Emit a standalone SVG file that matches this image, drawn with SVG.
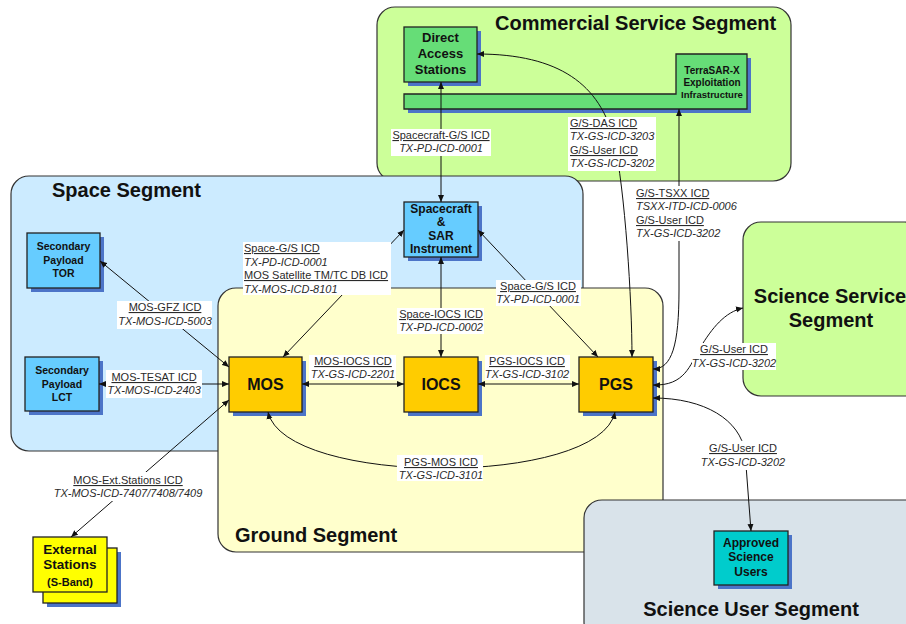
<svg xmlns="http://www.w3.org/2000/svg" width="906" height="624" viewBox="0 0 906 624">
  <defs>
    <marker id="arr" markerUnits="userSpaceOnUse" markerWidth="8" markerHeight="7" refX="7" refY="3.5" orient="auto-start-reverse">
      <path d="M0,0.5 L7,3.5 L0,6.5 z" fill="#111"/>
    </marker>
  </defs>
  <style>
    text { font-family: "Liberation Sans", Arial, sans-serif; }
    .seg { stroke: #333; stroke-width: 1.2; }
    .title { font-size: 20px; font-weight: bold; fill: #111; }
    .node { stroke: #222; stroke-width: 1.3; }
    .shadow { fill: #4C74C8; }
    .nt { font-weight: bold; fill: #111; text-anchor: middle; }
    .con { fill: none; stroke: #111; stroke-width: 1; marker-start: url(#arr); marker-end: url(#arr); }
    .bg { fill: #fff; }
    .lb { font-size: 11px; fill: #2a2a2a; }
    .c { text-anchor: middle; }
    .u { text-decoration: underline; }
    .i { font-style: italic; }
  </style>

  <!-- segments -->
  <g id="segments">
    <rect id="seg-commercial" class="seg" x="377" y="7" width="414" height="174" rx="18" fill="#CCFF99"/>
    <rect id="seg-space" class="seg" x="11" y="176" width="572" height="275" rx="18" fill="#CCEBFF"/>
    <rect id="seg-ground" class="seg" x="218" y="288" width="445" height="264" rx="18" fill="#FFFFCC"/>
    <rect id="seg-science-service" class="seg" x="743" y="222" width="180" height="174" rx="18" fill="#CCFF99"/>
    <rect id="seg-science-user" class="seg" x="584" y="500" width="340" height="140" rx="18" fill="#D9E3EA"/>
    <text class="title" x="495" y="30">Commercial Service Segment</text>
    <text class="title" x="52" y="197">Space Segment</text>
    <text class="title" x="235" y="542">Ground Segment</text>
    <text class="title" x="830" y="303" text-anchor="middle">Science Service</text>
    <text class="title" x="831" y="327" text-anchor="middle">Segment</text>
    <text class="title" x="751" y="616" text-anchor="middle">Science User Segment</text>
  </g>

  <!-- nodes -->
  <g id="node-das">
    <rect class="shadow" x="408" y="31" width="73" height="55"/>
    <rect class="node" x="404" y="27" width="73" height="55" fill="#66DD77"/>
    <text class="nt" font-size="13" x="440.5" y="42">Direct</text>
    <text class="nt" font-size="13" x="440.5" y="58">Access</text>
    <text class="nt" font-size="13" x="440.5" y="74">Stations</text>
  </g>
  <g id="node-tsxei">
    <polygon class="shadow" points="408,98 680,98 680,58 751,58 751,113 408,113"/>
    <polygon class="node" points="404,94 676,94 676,54 747,54 747,109 404,109" fill="#66DD77"/>
    <text class="nt" font-size="10" x="712" y="74">TerraSAR-X</text>
    <text class="nt" font-size="10" x="712" y="86">Exploitation</text>
    <text class="nt" font-size="9.5" x="712" y="98">Infrastructure</text>
  </g>
  <g id="node-spacecraft">
    <rect class="shadow" x="408" y="206" width="74" height="55"/>
    <rect class="node" x="404" y="202" width="74" height="55" fill="#66CCFF"/>
    <text class="nt" font-size="12" x="441" y="212.5">Spacecraft</text>
    <text class="nt" font-size="12" x="441" y="226">&amp;</text>
    <text class="nt" font-size="12" x="441" y="240">SAR</text>
    <text class="nt" font-size="12" x="441" y="253">Instrument</text>
  </g>
  <g id="node-tor">
    <rect class="shadow" x="31" y="237" width="73" height="55"/>
    <rect class="node" x="27" y="233" width="73" height="55" fill="#66CCFF"/>
    <text class="nt" font-size="10.5" x="63.5" y="250">Secondary</text>
    <text class="nt" font-size="10.5" x="63.5" y="264">Payload</text>
    <text class="nt" font-size="10.5" x="63.5" y="277">TOR</text>
  </g>
  <g id="node-lct">
    <rect class="shadow" x="29" y="361" width="74" height="54"/>
    <rect class="node" x="25" y="357" width="74" height="54" fill="#66CCFF"/>
    <text class="nt" font-size="10.5" x="62" y="374">Secondary</text>
    <text class="nt" font-size="10.5" x="62" y="388">Payload</text>
    <text class="nt" font-size="10.5" x="62" y="401">LCT</text>
  </g>
  <g id="node-mos">
    <rect class="shadow" x="233" y="361" width="73" height="55"/>
    <rect class="node" x="229" y="357" width="73" height="55" fill="#FFCC00"/>
    <text class="nt" font-size="16" x="265.5" y="390">MOS</text>
  </g>
  <g id="node-iocs">
    <rect class="shadow" x="408" y="361" width="74" height="55"/>
    <rect class="node" x="404" y="357" width="74" height="55" fill="#FFCC00"/>
    <text class="nt" font-size="16" x="441" y="390">IOCS</text>
  </g>
  <g id="node-pgs">
    <rect class="shadow" x="583" y="361" width="74" height="55"/>
    <rect class="node" x="579" y="357" width="74" height="55" fill="#FFCC00"/>
    <text class="nt" font-size="16" x="616" y="390">PGS</text>
  </g>
  <g id="node-ext">
    <rect class="shadow" x="47" y="552" width="74" height="55"/>
    <rect class="node" x="43" y="548" width="74" height="55" fill="#FFFF00"/>
    <rect class="node" x="33" y="537" width="74" height="55" fill="#FFFF00"/>
    <text class="nt" font-size="13.5" x="70" y="554">External</text>
    <text class="nt" font-size="13.5" x="70" y="569">Stations</text>
    <text class="nt" font-size="11" x="70" y="586">(S-Band)</text>
  </g>
  <g id="node-asu">
    <rect class="shadow" x="718" y="535" width="74" height="54"/>
    <rect class="node" x="714" y="531" width="74" height="54" fill="#00CCCC"/>
    <text class="nt" font-size="12" x="751" y="547">Approved</text>
    <text class="nt" font-size="12" x="751" y="561">Science</text>
    <text class="nt" font-size="12" x="751" y="576">Users</text>
  </g>

  <!-- interfaces -->
  <g id="connectors">
    <path class="con" d="M441,82 V202"/>
    <path class="con" d="M632,357 C632,300 625,190 614,140 C600,85 560,54 477,54"/>
    <path class="con" d="M679,109 V290 C679,345 672,369 653,369"/>
    <path class="con" d="M653,385 C685,386 690,365 700,348 C712,328 725,312 743,308"/>
    <path class="con" d="M653,398 C705,398 740,420 745,452 L751,531"/>
    <path class="con" d="M100,261 L229,367"/>
    <path class="con" d="M99,384 H229"/>
    <path class="con" d="M229,400 L71,537"/>
    <path class="con" d="M404,230 L283,357"/>
    <path class="con" d="M441,257 V357"/>
    <path class="con" d="M478,230 L598,357"/>
    <path class="con" d="M302,384 H404"/>
    <path class="con" d="M478,384 H579"/>
    <path class="con" d="M268,412 C285,487 600,487 615,412"/>
  </g>

  <!-- interface labels -->
  <g id="labels">
    <rect class="bg" x="391" y="129" width="100" height="27"/>
    <text class="lb c u" x="441" y="139">Spacecraft-G/S ICD</text>
    <text class="lb c i" x="441" y="152">TX-PD-ICD-0001</text>

    <rect class="bg" x="568" y="117" width="88" height="54"/>
    <text class="lb u" x="570" y="127">G/S-DAS ICD</text>
    <text class="lb i" x="570" y="140">TX-GS-ICD-3203</text>
    <text class="lb u" x="570" y="154">G/S-User ICD</text>
    <text class="lb i" x="570" y="167">TX-GS-ICD-3202</text>

    <rect class="bg" x="634" y="186" width="106" height="55"/>
    <text class="lb u" x="636" y="197">G/S-TSXX ICD</text>
    <text class="lb i" x="636" y="210">TSXX-ITD-ICD-0006</text>
    <text class="lb u" x="636" y="224">G/S-User ICD</text>
    <text class="lb i" x="636" y="237">TX-GS-ICD-3202</text>

    <rect class="bg" x="243" y="242" width="148" height="53"/>
    <text class="lb u" x="244" y="252">Space-G/S ICD</text>
    <text class="lb i" x="244" y="266">TX-PD-ICD-0001</text>
    <text class="lb u" x="244" y="279">MOS Satellite TM/TC DB ICD</text>
    <text class="lb i" x="244" y="293">TX-MOS-ICD-8101</text>

    <rect class="bg" x="496" y="280" width="85" height="26"/>
    <text class="lb c u" x="538" y="290">Space-G/S ICD</text>
    <text class="lb c i" x="538" y="303">TX-PD-ICD-0001</text>

    <rect class="bg" x="397" y="308" width="87" height="26"/>
    <text class="lb c u" x="441" y="318">Space-IOCS ICD</text>
    <text class="lb c i" x="441" y="331">TX-PD-ICD-0002</text>

    <rect class="bg" x="117" y="301" width="95" height="28"/>
    <text class="lb c u" x="165" y="311">MOS-GFZ ICD</text>
    <text class="lb c i" x="165" y="325">TX-MOS-ICD-5003</text>

    <rect class="bg" x="106" y="370" width="96" height="28"/>
    <text class="lb c u" x="154" y="381">MOS-TESAT ICD</text>
    <text class="lb c i" x="154" y="394">TX-MOS-ICD-2403</text>

    <rect class="bg" x="309" y="355" width="87" height="25"/>
    <text class="lb c u" x="353" y="365">MOS-IOCS ICD</text>
    <text class="lb c i" x="353" y="378">TX-GS-ICD-2201</text>

    <rect class="bg" x="485" y="355" width="85" height="25"/>
    <text class="lb c u" x="527" y="365">PGS-IOCS ICD</text>
    <text class="lb c i" x="527" y="378">TX-GS-ICD-3102</text>

    <rect class="bg" x="397" y="455" width="86" height="26"/>
    <text class="lb c u" x="441" y="466">PGS-MOS ICD</text>
    <text class="lb c i" x="441" y="479">TX-GS-ICD-3101</text>

    <rect class="bg" x="52" y="472" width="152" height="29"/>
    <text class="lb c u" x="128" y="484">MOS-Ext.Stations ICD</text>
    <text class="lb c i" x="128" y="497">TX-MOS-ICD-7407/7408/7409</text>

    <rect class="bg" x="692" y="343" width="84" height="27"/>
    <text class="lb c u" x="734" y="353">G/S-User ICD</text>
    <text class="lb c i" x="734" y="367">TX-GS-ICD-3202</text>

    <rect class="bg" x="700" y="441" width="86" height="29"/>
    <text class="lb c u" x="743" y="452">G/S-User ICD</text>
    <text class="lb c i" x="743" y="466">TX-GS-ICD-3202</text>
  </g>
</svg>
